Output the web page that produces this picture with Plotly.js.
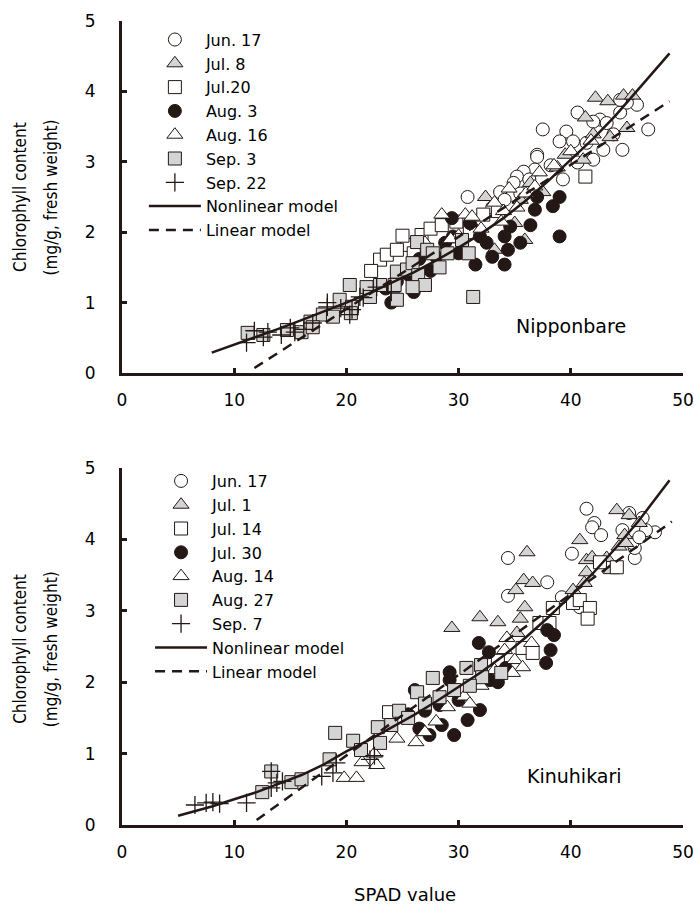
<!DOCTYPE html>
<html>
<head>
<meta charset="utf-8">
<script src="https://cdn.plot.ly/plotly-3.0.1.min.js"></script>
<style>html,body{margin:0;padding:0;background:#fff;}#chart{width:694px;height:915px;}</style>
</head>
<body>
<div id="chart"></div>
<script>
// ---------- Nipponbare (top panel) ----------
const nipLabels = ['Jun. 17', 'Jul. 8', 'Jul.20', 'Aug. 3', 'Aug. 16', 'Sep. 3', 'Sep. 22'];
const nipJun17X = [37.5,40.6,39.6,39.0,42.6,43.2,44.4,45.9,46.9,44.6,42.9,41.4,40.2,40.6,39.3,37.0,37.0,36.8,35.8,35.2,34.9,30.8,33.7,34.1,42.0,42.0,43.8,45.0,44.4,36.3,33.0,35.5,38.2];
const nipJun17Y = [3.46,3.70,3.43,3.29,3.60,3.55,3.70,3.81,3.46,3.17,3.17,3.27,3.29,2.99,2.75,3.10,3.07,2.89,2.86,2.79,2.70,2.50,2.57,2.46,3.03,3.57,3.39,3.84,3.88,2.75,2.35,2.55,2.95];
const nipJul8X = [42.2,43.3,44.7,45.5,41.3,42.0,43.5,45.0,39.5,41.1,38.8,36.4,32.4,37.5,35.5,35.0,35.9,33.2,31.5];
const nipJul8Y = [3.91,3.86,3.94,3.94,3.63,3.39,3.35,3.48,3.10,3.03,2.92,2.70,2.50,2.57,2.46,2.13,1.89,1.75,2.05];
const nipJul20X = [23.0,25.4,26.7,23.6,41.3,32.2,27.5,28.5,24.5,26.0,29.8,22.2,31.0,25.0,33.5];
const nipJul20Y = [1.61,1.82,1.96,1.68,2.79,2.25,2.05,2.10,1.75,1.70,2.15,1.45,2.00,1.95,2.30];
const nipAug3X = [39.0,38.4,37.0,36.8,36.4,39.0,34.4,29.4,31.0,34.6,34.1,31.9,32.5,29.5,28.8,31.5,34.1,26.5,27.5,25.5,24.5,23.5,26.0,30.0,33.0,28.0,35.5,24.0];
const nipAug3Y = [2.50,2.37,2.50,2.32,2.10,1.94,1.75,2.20,2.13,2.08,1.94,1.94,1.85,1.94,1.85,1.54,1.54,1.62,1.45,1.40,1.30,1.20,1.15,1.70,1.65,1.65,1.85,1.00];
const nipAug16X = [28.5,30.6,31.2,33.2,34.5,35.2,36.0,33.8,32.0,30.0,37.2,38.5,40.0,41.8,27.0,29.3,34.0,36.8];
const nipAug16Y = [2.25,2.25,2.22,2.42,2.62,2.35,2.55,2.15,2.05,1.95,2.85,2.95,3.15,3.30,1.85,1.90,2.30,2.65];
const nipSep3X = [11.2,12.6,14.7,16.0,16.8,17.9,18.8,19.4,20.5,20.3,21.8,22.1,23.0,24.3,24.5,24.5,25.4,25.9,26.4,27.0,25.9,26.3,27.2,31.3,27.7,29.0,30.3,30.9,20.4,17.0,28.3];
const nipSep3Y = [0.57,0.54,0.61,0.58,0.73,0.83,0.80,1.04,0.94,1.25,1.22,1.08,1.25,1.25,1.04,1.44,1.47,1.56,1.39,1.25,1.22,1.86,1.75,1.08,1.70,1.70,1.89,1.70,0.85,0.65,1.50];
const nipSep22X = [11.1,12.6,14.2,15.4,17.0,18.3,20.3,21.5,22.7,15.0,18.3,21.2,20.5,11.8,13.0,16.2,24.0,19.5];
const nipSep22Y = [0.43,0.51,0.54,0.58,0.71,0.94,0.83,1.07,1.22,0.64,1.00,1.08,0.90,0.60,0.58,0.62,1.15,0.92];
const nipNonX = [8,10,12,14,16,18,20,22,24,26,28,30,32,34,36,38,40,42,44,46,48,48.8];
const nipNonY = [0.29,0.40,0.52,0.63,0.75,0.87,1.00,1.13,1.28,1.43,1.60,1.78,1.98,2.20,2.45,2.73,3.03,3.33,3.66,4.02,4.38,4.54];
const nipLinX = [11.8,48.8];
const nipLinY = [0.07,3.86];

// ---------- Kinuhikari (bottom panel) ----------
const kinLabels = ['Jun. 17', 'Jul. 1', 'Jul. 14', 'Jul. 30', 'Aug. 14', 'Aug. 27', 'Sep. 7'];
const kinJun17X = [34.4,37.9,34.4,39.2,41.4,42.1,41.9,42.7,40.1,40.8,44.6,45.2,46.4,47.5,45.7,45.7,45.5,46.7,46.1];
const kinJun17Y = [3.74,3.40,3.21,3.19,4.43,4.23,4.17,4.06,3.80,3.05,4.13,4.37,4.30,4.10,3.74,3.88,3.95,4.13,4.03];
const kinJul1X = [29.4,31.9,33.5,35.1,35.8,36.6,36.1,35.9,35.5,35.2,40.2,41.2,40.8,41.4,41.9,43.2,43.6,44.1,45.2,46.1,44.8,44.3,44.9,41.4];
const kinJul1Y = [2.76,2.91,2.84,3.29,3.43,3.39,3.82,3.05,2.89,2.69,3.29,3.39,3.99,3.71,3.75,3.74,3.57,4.41,4.34,4.23,4.06,3.90,3.95,3.54];
const kinJul14X = [38.4,40.2,40.8,41.7,41.5,37.2,38.1,35.7,36.6,42.6,44.1,23.8,33.5];
const kinJul14Y = [3.04,3.11,3.15,3.04,2.89,2.83,2.83,2.48,2.41,3.68,3.61,1.58,2.30];
const kinJul30X = [31.8,32.7,37.9,38.5,38.2,37.8,34.2,29.2,29.2,26.1,28.3,27.4,30.8,29.6,32.8,31.9,25.5,27.0,30.0,28.5,33.5,26.5];
const kinJul30Y = [2.55,2.42,2.73,2.66,2.45,2.27,2.20,2.14,2.03,1.89,1.68,1.26,1.47,1.26,2.03,1.61,1.55,1.60,1.75,1.40,2.00,1.35];
const kinAug14X = [34.3,34.1,35.0,35.7,34.8,33.2,19.8,20.9,21.4,22.7,22.5,24.5,26.2,28.0,30.5,32.0,29.0,36.5,27.0,31.0];
const kinAug14Y = [2.62,2.45,2.31,2.21,2.13,2.17,0.66,0.66,0.88,0.84,1.00,1.21,1.16,1.45,1.80,1.95,1.65,2.55,1.30,1.70];
const kinAug27X = [13.3,12.5,15.1,16.0,18.5,19.0,20.6,21.3,22.8,23.0,24.0,24.7,26.3,30.7,32.0,32.1,33.8,27.7,29.6,28.3,25.5,27.0,31.0];
const kinAug27Y = [0.75,0.46,0.60,0.64,0.92,1.29,1.18,1.05,1.37,1.15,1.40,1.60,1.86,2.20,2.24,2.07,2.13,2.06,1.89,1.79,1.50,1.70,1.95];
const kinSep7X = [6.5,7.5,8.1,8.7,11.1,13.3,13.8,14.3,17.8,18.8,19.1,22.1,22.5,13.3];
const kinSep7Y = [0.28,0.31,0.32,0.30,0.31,0.52,0.59,0.61,0.68,0.73,0.87,0.92,0.97,0.75];
const kinNonX = [5,8,10,12,14,16,18,20,22,24,26,28,30,32,34,36,38,40,42,44,46,48,48.8];
const kinNonY = [0.13,0.26,0.36,0.46,0.58,0.70,0.85,1.03,1.19,1.36,1.54,1.73,1.93,2.14,2.37,2.63,2.91,3.21,3.53,3.88,4.25,4.66,4.83];
const kinLinX = [12.0,49.0];
const kinLinY = [0.07,4.25];

const modelLabels = ['Nonlinear model', 'Linear model'];
const xTicks = [0, 10, 20, 30, 40, 50];
const yTicks = [0, 1, 2, 3, 4, 5];

// ---------- styling ----------
const INK = '#231815';
const GRAY = '#d4d4d4';
const FONT = 'DejaVu Sans, Liberation Sans, Arial, sans-serif';
const styles = [
  {symbol: 'circle', color: '#ffffff', size: 13},
  {symbol: 'triangle-up', color: GRAY, size: 14},
  {symbol: 'square', color: '#ffffff', size: 13},
  {symbol: 'circle', color: INK, size: 13},
  {symbol: 'triangle-up', color: '#ffffff', size: 14},
  {symbol: 'square', color: GRAY, size: 13},
  {symbol: 'cross-thin-open', color: INK, size: 13}
];

function markerTrace(name, xs, ys, st, xa, ya, leg) {
  const isCross = st.symbol === 'cross-thin-open';
  return {
    type: 'scatter', mode: 'markers', name: name, x: xs, y: ys,
    xaxis: xa, yaxis: ya, legend: leg,
    marker: {symbol: st.symbol, size: st.size, color: st.color,
             line: {color: INK, width: isCross ? 1.3 : 1}}
  };
}
function lineTrace(name, xs, ys, dash, xa, ya, leg) {
  return {type: 'scatter', mode: 'lines', name: name, x: xs, y: ys,
          xaxis: xa, yaxis: ya, legend: leg,
          line: {color: INK, width: 2.5, dash: dash}};
}

const nipSeries = [[nipJun17X,nipJun17Y],[nipJul8X,nipJul8Y],[nipJul20X,nipJul20Y],[nipAug3X,nipAug3Y],[nipAug16X,nipAug16Y],[nipSep3X,nipSep3Y],[nipSep22X,nipSep22Y]];
const kinSeries = [[kinJun17X,kinJun17Y],[kinJul1X,kinJul1Y],[kinJul14X,kinJul14Y],[kinJul30X,kinJul30Y],[kinAug14X,kinAug14Y],[kinAug27X,kinAug27Y],[kinSep7X,kinSep7Y]];

const traces = [];
nipSeries.forEach((s, i) => traces.push(markerTrace(nipLabels[i], s[0], s[1], styles[i], 'x', 'y', 'legend')));
traces.push(lineTrace(modelLabels[0], nipNonX, nipNonY, 'solid', 'x', 'y', 'legend'));
traces.push(lineTrace(modelLabels[1], nipLinX, nipLinY, '10px,7px', 'x', 'y', 'legend'));
kinSeries.forEach((s, i) => traces.push(markerTrace(kinLabels[i], s[0], s[1], styles[i], 'x2', 'y2', 'legend2')));
traces.push(lineTrace(modelLabels[0], kinNonX, kinNonY, 'solid', 'x2', 'y2', 'legend2'));
traces.push(lineTrace(modelLabels[1], kinLinX, kinLinY, '10px,7px', 'x2', 'y2', 'legend2'));

function xAxis(anchor) {
  return {domain: [0, 1], range: [0, 50], anchor: anchor, tickvals: xTicks,
          ticks: 'inside', ticklen: 5, tickwidth: 3, tickcolor: INK,
          showline: true, linewidth: 3, linecolor: INK, mirror: false,
          showgrid: false, zeroline: false, ticklabelstandoff: 10,
          tickfont: {family: FONT, size: 17, color: '#000'}};
}
function yAxis(anchor, dom) {
  return {domain: dom, range: [0, 5], anchor: anchor, tickvals: yTicks,
          ticks: 'inside', ticklen: 5, tickwidth: 3, tickcolor: INK,
          showline: true, linewidth: 3, linecolor: INK,
          showgrid: false, zeroline: false, ticklabelstandoff: 20,
          tickfont: {family: FONT, size: 17, color: '#000'}};
}
const legendBase = {bgcolor: 'rgba(0,0,0,0)', borderwidth: 0, itemwidth: 52,
                    font: {family: FONT, size: 16, color: '#000'},
                    xanchor: 'left', yanchor: 'top', tracegroupgap: 0};
const titleFont = {family: 'DejaVu Sans Condensed, Liberation Sans Narrow, sans-serif', size: 17, color: '#000'};

const layout = {
  width: 694, height: 915,
  margin: {l: 122, r: 11, t: 21, b: 90},
  paper_bgcolor: '#fff', plot_bgcolor: '#fff',
  showlegend: true,
  xaxis: xAxis('y'),
  yaxis: yAxis('x', [0.5622, 1]),
  xaxis2: xAxis('y2'),
  yaxis2: yAxis('x2', [0, 0.444]),
  legend: Object.assign({}, legendBase, {x: 0.039, y: 0.998}),
  legend2: Object.assign({}, legendBase, {x: 0.05, y: 0.449}),
  annotations: [
    {text: 'Chlorophyll content', xref: 'paper', yref: 'paper', x: -0.182, y: 0.781, textangle: -90, showarrow: false, xanchor: 'center', yanchor: 'middle', font: titleFont},
    {text: '(mg/g, fresh weight)', xref: 'paper', yref: 'paper', x: -0.126, y: 0.781, textangle: -90, showarrow: false, xanchor: 'center', yanchor: 'middle', font: titleFont},
    {text: 'Chlorophyll content', xref: 'paper', yref: 'paper', x: -0.182, y: 0.219, textangle: -90, showarrow: false, xanchor: 'center', yanchor: 'middle', font: titleFont},
    {text: '(mg/g, fresh weight)', xref: 'paper', yref: 'paper', x: -0.126, y: 0.219, textangle: -90, showarrow: false, xanchor: 'center', yanchor: 'middle', font: titleFont},
    {text: 'Nipponbare', xref: 'x', yref: 'y', x: 40.0, y: 0.67, showarrow: false, xanchor: 'center', yanchor: 'middle', font: {family: FONT, size: 19, color: '#000'}},
    {text: 'Kinuhikari', xref: 'x2', yref: 'y2', x: 40.3, y: 0.69, showarrow: false, xanchor: 'center', yanchor: 'middle', font: {family: FONT, size: 19, color: '#000'}},
    {text: 'SPAD value', xref: 'paper', yref: 'paper', x: 0.504, y: -0.087, showarrow: false, xanchor: 'center', yanchor: 'middle', font: {family: FONT, size: 18, color: '#000'}}
  ]
};

Plotly.newPlot('chart', traces, layout, {displayModeBar: false, staticPlot: true});
</script>
</body>
</html>
